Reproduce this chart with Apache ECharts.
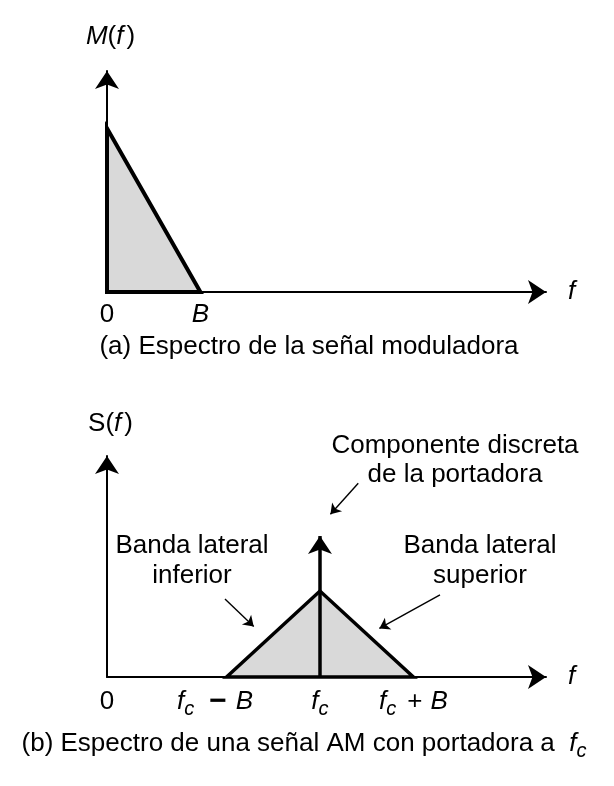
<!DOCTYPE html>
<html><head><meta charset="utf-8">
<script src="https://cdn.jsdelivr.net/npm/echarts@6/dist/echarts.min.js"></script>
<style>html,body{margin:0;padding:0;background:#fff}#c{width:614px;height:786px}</style>
</head><body><div id="c"></div>
<script>
// ---- data (frequency in units of B, amplitude relative to M(0)) ----
const B = 1;
const fc = 2.28;
const modF = [0, 0, B];            // M(f) triangle vertices (f)
const modA = [0, 1, 0];            // M(f) triangle vertices (amplitude)
const amF = [fc - B, fc, fc + B];  // S(f) side bands vertices (f)
const amA = [0, 0.525, 0];         // S(f) side bands vertices (amplitude)
const carrierF = [fc, fc];
const carrierA = [0, 0.861];       // discrete carrier component
const topTicks = [0, B];
const topTickLabels = ['{u|0}', '{i|B}'];
const bottomTicks = [0, fc - B, fc, fc + B];
const bottomTickLabels = ['{u|0}', '{i|f}{s|c}{m|−}{i|B}{g| }', '{i|f}{s|c}', '{i|f}{s|c}{p|+}{i|B}'];
const xMax = 4.7, yMax = 1.35;

const FF = '"Liberation Sans", Arial, sans-serif';
const rich = {
  i: {fontStyle: 'italic', fontSize: 26, fontFamily: FF, color: '#000', lineHeight: 34},
  u: {fontSize: 26, fontFamily: FF, color: '#000', lineHeight: 34},
  r: {fontSize: 26, fontFamily: FF, color: '#000', lineHeight: 34, padding: [0, 0, 0, 3]},
  s: {fontStyle: 'italic', fontSize: 20, fontFamily: FF, color: '#000', lineHeight: 22, verticalAlign: 'bottom'},
  m: {fontSize: 30, fontWeight: 'bold', fontFamily: FF, color: '#000', lineHeight: 34, padding: [0, 9, 0, 15]},
  p: {fontSize: 26, fontFamily: FF, color: '#000', lineHeight: 34, padding: [0, 8, 0, 11]},
  g: {width: 23, fontSize: 26, lineHeight: 34}
};

function tickFormatter(ticks, labels) {
  return function (v) {
    const k = ticks.findIndex(t => Math.abs(t - v) < 1e-6);
    return k >= 0 ? labels[k] : '';
  };
}

function makeXAxis(gi, ticks, labels, margin) {
  return {
    type: 'value', gridIndex: gi, min: 0, max: xMax, position: 'bottom',
    axisLine: {show: true, onZero: false, symbol: ['none', 'arrow'], symbolSize: [18, 18],
      lineStyle: {color: '#000', width: 2}},
    axisTick: {show: false}, splitLine: {show: false},
    axisLabel: {show: true, customValues: ticks, formatter: tickFormatter(ticks, labels),
      margin: margin, lineHeight: 34, fontSize: 26, fontFamily: FF, color: '#000', rich: rich},
    name: '{i|f}', nameLocation: 'end', nameGap: 22,
    nameTextStyle: {rich: rich, lineHeight: 34, verticalAlign: 'middle', align: 'left'}
  };
}
function makeYAxis(gi, name, gap) {
  return {
    type: 'value', gridIndex: gi, min: 0, max: yMax, position: 'left',
    axisLine: {show: true, onZero: false, symbol: ['none', 'arrow'], symbolSize: [18, 18],
      lineStyle: {color: '#000', width: 2}},
    axisTick: {show: false}, splitLine: {show: false}, axisLabel: {show: false},
    name: name, nameLocation: 'end', nameGap: gap,
    nameTextStyle: {rich: rich, lineHeight: 34, padding: [0, 0, 0, 7]}
  };
}

function polygonSeries(gi, fs, as, lw) {
  return {
    type: 'custom', xAxisIndex: gi, yAxisIndex: gi, silent: true, z: 3,
    data: [[fs[0], as[0]]],
    renderItem: function (params, api) {
      return {
        type: 'polygon',
        shape: {points: fs.map((f, k) => api.coord([f, as[k]]))},
        style: {fill: '#d9d9d9', stroke: '#000', lineWidth: lw, lineJoin: 'miter'}
      };
    }
  };
}

const chart = echarts.init(document.getElementById('c'), null, {renderer: 'canvas'});
chart.setOption({
  animation: false,
  backgroundColor: '#fff',
  grid: [
    {left: 107, top: 71, width: 439, height: 221, containLabel: false, outerBoundsMode: 'none'},
    {left: 107, top: 456, width: 439, height: 221, containLabel: false, outerBoundsMode: 'none'}
  ],
  xAxis: [makeXAxis(0, topTicks, topTickLabels, 6), makeXAxis(1, bottomTicks, bottomTickLabels, 8)],
  yAxis: [makeYAxis(0, '{i|M}{u|(}{i|f}{r|)}', 17), makeYAxis(1, '{u|S(}{i|f}{r|)}', 15.5)],
  series: [
    polygonSeries(0, modF, modA, 4),
    polygonSeries(1, amF, amA, 3.5),
    {
      type: 'line', xAxisIndex: 1, yAxisIndex: 1, data: [], z: 4,
      markLine: {
        silent: true, animation: false, symbol: ['none', 'arrow'], symbolSize: 18,
        label: {show: false},
        lineStyle: {color: '#000', width: 3.5, type: 'solid'},
        data: [[{coord: [carrierF[0], carrierA[0]]}, {coord: [carrierF[1], carrierA[1]]}]]
      }
    },
    {
      type: 'line', xAxisIndex: 1, yAxisIndex: 1, data: [], z: 4,
      markLine: {
        silent: true, animation: false, symbol: ['none', 'arrow'], symbolSize: 10,
        label: {show: false},
        lineStyle: {color: '#000', width: 1.4, type: 'solid'},
        data: [
          [{coord: [2.690, 1.183]}, {coord: [2.392, 0.994]}],
          [{coord: [1.263, 0.476]}, {coord: [1.571, 0.308]}],
          [{coord: [3.565, 0.501]}, {coord: [2.916, 0.297]}]
        ]
      }
    }
  ],
  graphic: [
    {type: 'text', x: 309, y: 347, silent: true,
      style: {text: '(a) Espectro de la señal moduladora', align: 'center', verticalAlign: 'middle',
        fontSize: 26, fontFamily: FF, fill: '#000'}},
    {type: 'text', x: 304, y: 744, silent: true,
      style: {text: '(b) Espectro de una señal AM con portadora a  {i|f}{s|c}', align: 'center', verticalAlign: 'middle',
        fontSize: 26, fontFamily: FF, fill: '#000', lineHeight: 34, rich: {
          i: {fontStyle: 'italic', fontSize: 26, fontFamily: FF, fill: '#000', lineHeight: 34},
          s: {fontStyle: 'italic', fontSize: 20, fontFamily: FF, fill: '#000', lineHeight: 22, verticalAlign: 'bottom'}
        }}},
    {type: 'text', x: 455, y: 460, silent: true,
      style: {text: 'Componente discreta\nde la portadora', align: 'center', verticalAlign: 'middle',
        fontSize: 26, fontFamily: FF, fill: '#000', lineHeight: 29}},
    {type: 'text', x: 192, y: 561, silent: true,
      style: {text: 'Banda lateral\ninferior', align: 'center', verticalAlign: 'middle',
        fontSize: 26, fontFamily: FF, fill: '#000', lineHeight: 30}},
    {type: 'text', x: 480, y: 561, silent: true,
      style: {text: 'Banda lateral\nsuperior', align: 'center', verticalAlign: 'middle',
        fontSize: 26, fontFamily: FF, fill: '#000', lineHeight: 30}}
  ]
});
</script>
</body></html>
